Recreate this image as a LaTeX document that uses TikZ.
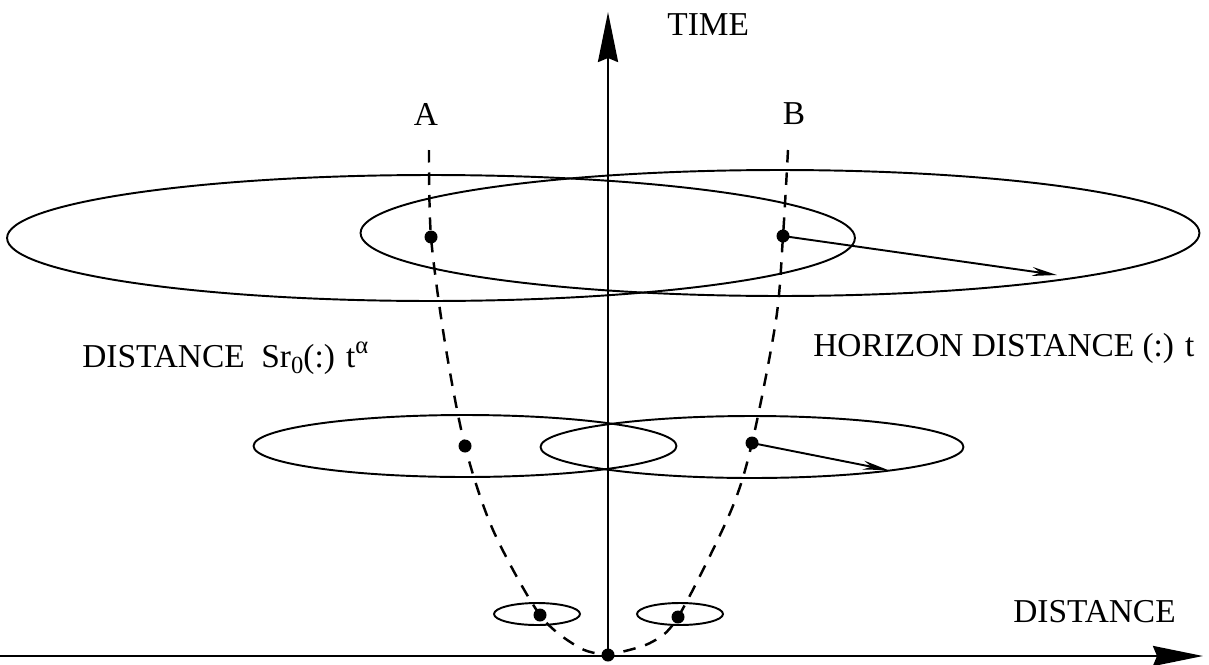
\documentclass[tikz,border=0pt]{standalone}
\usepackage{fontspec}
\setmainfont{Liberation Serif}
\usetikzlibrary{arrows.meta, positioning}

\begin{document}
\begin{tikzpicture}[x=0.02cm, y=0.02cm,
    axis/.style={line width=1.5pt, -{Stealth[length=1cm, width=0.4cm, inset=0.08cm]}},
    orbit/.style={line width=1.1pt},
    worldline/.style={line width=1.4pt, dash pattern=on 0.25cm off 0.2cm},
    galaxy/.style={circle, fill=black, inner sep=0pt, minimum size=0.26cm},
    horizonarr/.style={line width=1.1pt, -{Stealth[length=0.5cm, width=0.18cm]}},
    lbl/.style={font=\fontsize{19}{21}\selectfont, inner sep=0pt},
  ]
  \useasboundingbox (0,0) rectangle (1209,664);

  % Axes
  \coordinate (xl) at (0,8);
  \coordinate (xr) at (1203,8);
  \coordinate (yt) at (608,652);
  \node[galaxy] (O) at (608,9) {};
  \draw[axis] (xl) -- (xr);
  \draw[axis] (O.center) -- (yt);
  \node[lbl, anchor=west] (time) at (667,639) {TIME};
  \node[lbl, anchor=east] (dist) at (1176,52) {DISTANCE};

  % Galaxies A and B at three epochs
  \node[galaxy] (A1) at (431,427) {};
  \node[galaxy] (A2) at (465,218) {};
  \node[galaxy] (A3) at (540,49) {};
  \node[galaxy] (B1) at (783,428) {};
  \node[galaxy] (B2) at (752,221) {};
  \node[galaxy] (B3) at (678,47) {};
  \coordinate (Atop) at (429,514);
  \coordinate (Btop) at (788,514);
  \node[lbl] (A) at (426,550) {A};
  \node[lbl] (B) at (794,550) {B};

  % World lines
  \draw[worldline] plot[smooth] coordinates {(Atop) (A1) (445,321) (A2) (493,134) (A3) (580,16) (O)};
  \draw[worldline] plot[smooth] coordinates {(Btop) (B1) (776,344) (B2) (730,151) (B3) (650,21) (O)};

  % Horizons
  \draw[orbit] (431,426) ellipse [x radius=8.48cm, y radius=1.26cm];
  \draw[orbit] (780,431) ellipse [x radius=8.39cm, y radius=1.26cm];
  \draw[orbit] (A2) ellipse [x radius=4.23cm, y radius=0.62cm];
  \draw[orbit] (752,217) ellipse [x radius=4.23cm, y radius=0.62cm];
  \draw[orbit] (537,50) ellipse [x radius=0.86cm, y radius=0.22cm];
  \draw[orbit] (680,50) ellipse [x radius=0.86cm, y radius=0.22cm];

  % Horizon radii
  \coordinate (h1) at (1057,389);
  \coordinate (h2) at (888,194);
  \draw[horizonarr] (B1.center) -- (h1);
  \draw[horizonarr] (B2.center) -- (h2);

  % Labels
  \node[lbl, anchor=base west] (prop) at (82,297) {DISTANCE\ \ Sr\raisebox{-0.45ex}{\fontsize{14}{15}\selectfont 0}(:) t\raisebox{0.85ex}{\fontsize{14}{15}\selectfont α}};
  \node[lbl, anchor=base west] (hor) at (813,308) {HORIZON DISTANCE (:) t};
\end{tikzpicture}
\end{document}
